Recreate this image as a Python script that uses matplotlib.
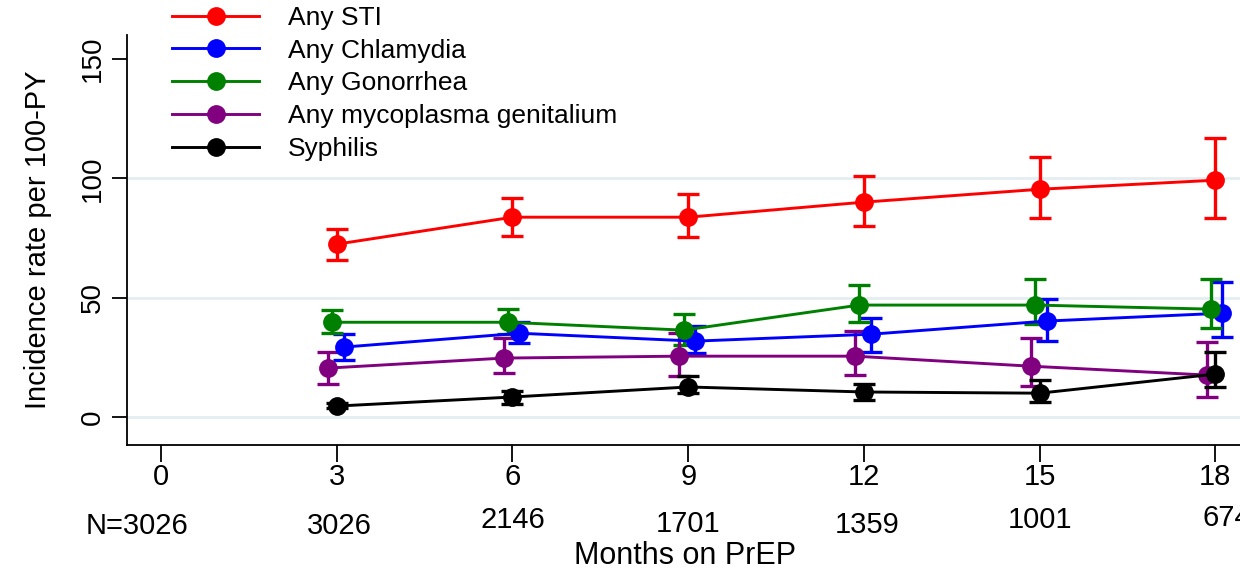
import matplotlib
matplotlib.use("Agg")
import matplotlib.pyplot as plt
import matplotlib.transforms as mtransforms

plt.rcParams['font.family'] = ['Liberation Sans', 'DejaVu Sans']

months = [3, 6, 9, 12, 15, 18]
tick_months = [0, 3, 6, 9, 12, 15, 18]
n_labels = ["N=3026", "3026", "2146", "1701", "1359", "1001", "674"]

series_names = ["Any STI", "Any Chlamydia", "Any Gonorrhea",
                "Any mycoplasma genitalium", "Syphilis"]
colors = ["#ff0000", "#0000ff", "#008000", "#800080", "#000000"]
x_offsets = [0.0, 0.12, -0.08, -0.15, 0.0]

sti = [72.4, 83.7, 83.7, 90.0, 95.4, 99.2]
sti_lo = [65.7, 75.7, 75.3, 80.0, 83.3, 83.3]
sti_hi = [78.7, 91.6, 93.3, 101.0, 108.8, 117.0]

chl = [29.3, 35.1, 31.8, 34.7, 40.2, 43.5]
chl_lo = [23.8, 31.0, 26.8, 27.2, 31.8, 33.5]
chl_hi = [34.7, 39.7, 38.0, 41.4, 49.4, 56.5]

gon = [39.7, 39.7, 36.4, 46.9, 46.9, 45.2]
gon_lo = [35.1, 34.7, 30.0, 39.7, 38.9, 37.2]
gon_hi = [44.8, 45.2, 43.0, 55.2, 57.7, 57.7]

myc = [20.5, 24.7, 25.5, 25.5, 21.3, 17.6]
myc_lo = [13.8, 18.4, 17.0, 17.6, 13.0, 8.4]
myc_hi = [27.2, 33.0, 35.0, 36.0, 33.0, 31.4]

syp = [4.6, 8.4, 12.6, 10.5, 10.0, 18.0]
syp_lo = [3.6, 5.4, 10.0, 7.1, 6.3, 12.6]
syp_hi = [5.8, 10.9, 17.0, 13.8, 15.5, 27.2]

values = [sti, chl, gon, myc, syp]
lows = [sti_lo, chl_lo, gon_lo, myc_lo, syp_lo]
highs = [sti_hi, chl_hi, gon_hi, myc_hi, syp_hi]

fig = plt.figure(figsize=(12.4, 5.72), dpi=100)
ax = fig.add_axes([127/1240, 1-445/572, (1274-127)/1240, (445-35)/572])
ax.set_xlim(-0.58, 19.0)
ax.set_ylim(-11.7, 160)

for yv in [0, 50, 100]:
    ax.axhline(yv, color="#e4eef0", lw=2, zorder=0)

handles = []
for name, c, off, v, lo, hi in zip(series_names, colors, x_offsets, values, lows, highs):
    xs = [m + off for m in months]
    yerr = [[a - b for a, b in zip(v, lo)], [b - a for a, b in zip(v, hi)]]
    ax.errorbar(xs, v, yerr=yerr, fmt='none', ecolor=c, elinewidth=2.4,
                capsize=8, capthick=2.4, zorder=2)
    h, = ax.plot(xs, v, '-o', color=c, lw=2.1, ms=12.5, zorder=3, label=name)
    handles.append(h)

for s in ['top', 'right']:
    ax.spines[s].set_visible(False)
for s in ['left', 'bottom']:
    ax.spines[s].set_linewidth(1.3)

ax.set_xticks(tick_months)
ax.set_xticklabels([str(m) for m in tick_months], fontsize=21)
ax.set_yticks([0, 50, 100, 150])
ax.set_yticklabels(["0", "50", "100", "150"], fontsize=20, rotation=90, va='center')
ax.tick_params(axis='x', length=12, width=1.3, pad=1)
ax.tick_params(axis='y', length=11, width=1.3, pad=4)

ax.set_ylabel("Incidence rate per 100-PY", fontsize=21, labelpad=20)

trans = mtransforms.blended_transform_factory(ax.transData, fig.transFigure)
n_x = [-0.41, 3.05, 6.0, 9.0, 12.05, 15.0, 18.2]
n_ypix = [526, 526, 520, 524, 525, 520, 518]
for xv, yp, lab in zip(n_x, n_ypix, n_labels):
    ax.text(xv, 1 - yp/572, lab, transform=trans, fontsize=21,
            ha='center', va='center', clip_on=False)

fig.text(685/1240, 1 - 556/572, "Months on PrEP", fontsize=22, ha='center', va='center')

leg = fig.legend(handles=handles, labels=series_names, loc='upper left',
                 bbox_to_anchor=(172/1240, 1 - 6/572), frameon=False,
                 fontsize=19, handlelength=3.3, handletextpad=1.1,
                 labelspacing=0.33, borderpad=0, borderaxespad=0)

fig.savefig("out.png", dpi=100)
